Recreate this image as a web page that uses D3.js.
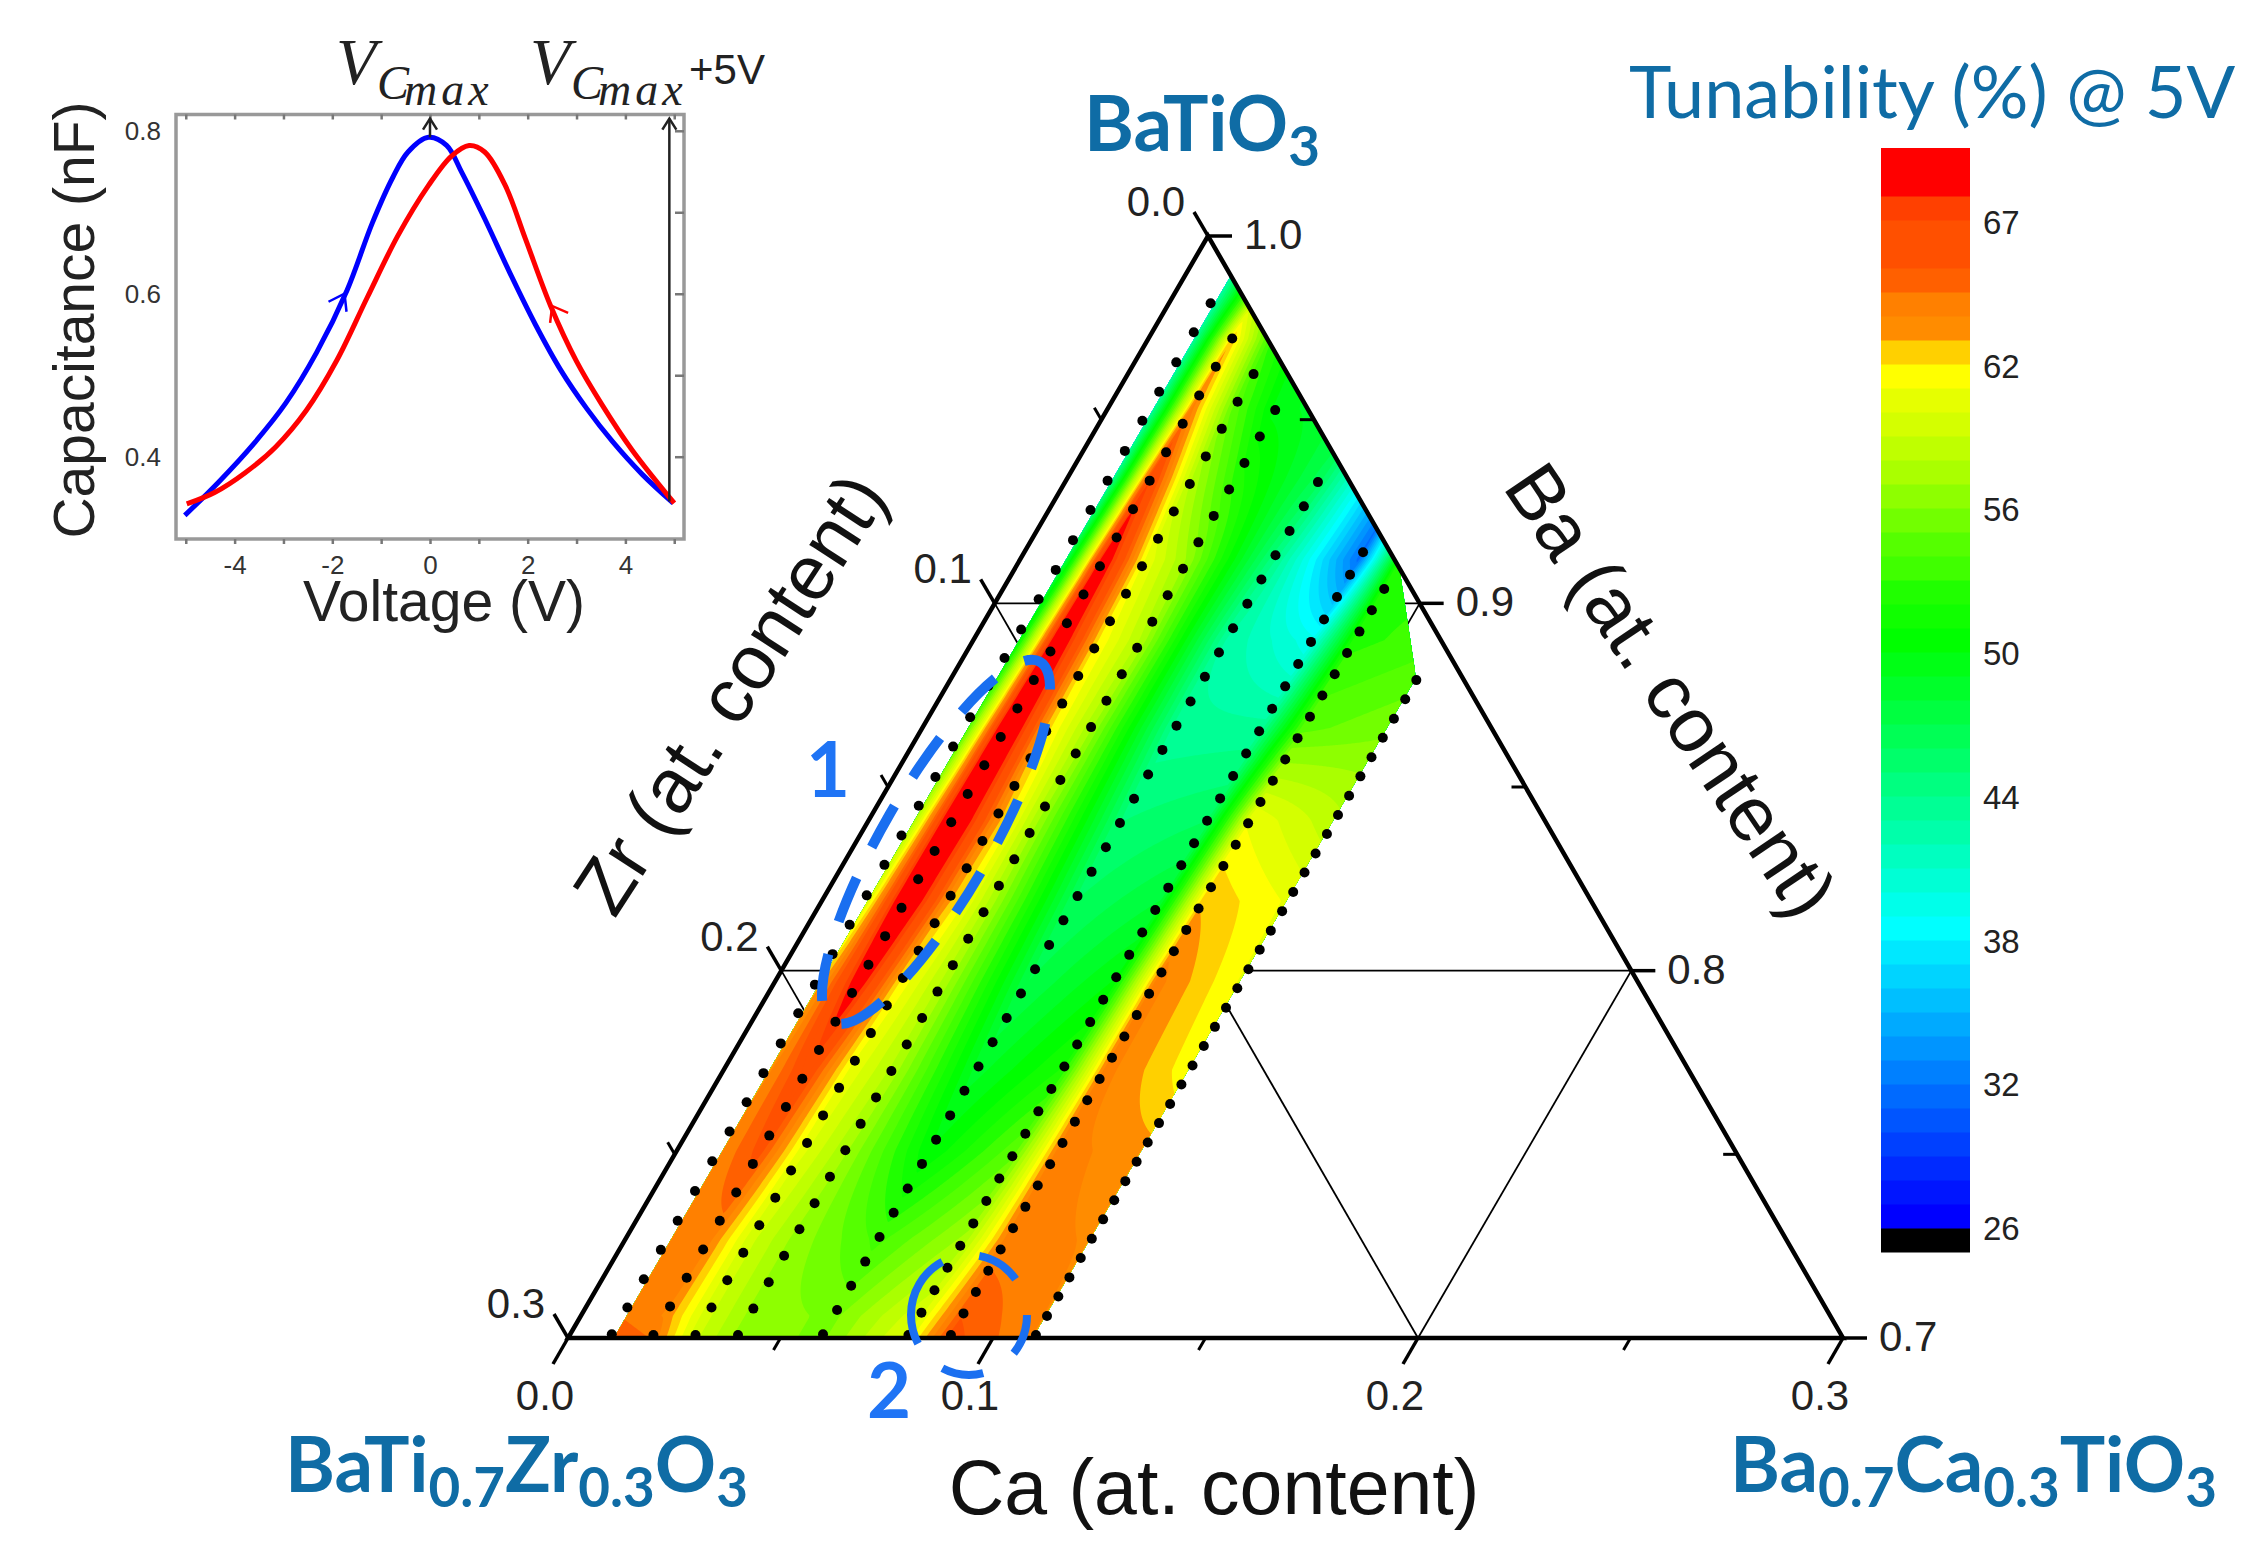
<!DOCTYPE html>
<html>
<head>
<meta charset="utf-8">
<script src="https://cdn.jsdelivr.net/npm/d3@7"></script>
<style>
  body { margin: 0; background: #fff; }
  svg { display: block; }
  text { font-family: "Liberation Sans", Arial, sans-serif; }
  .teal { font-family: Lato, sans-serif; fill: #0f6ca5; }
</style>
</head>
<body>
<svg width="2261" height="1553"></svg>
<script>
// inset C-V loop
const blueV = [-5.02, -4.31, -3.58, -2.95, -2.32, -1.7, -1.18, -0.76, -0.45, -0.03, 0.34, 0.65, 1.12, 1.64, 2.16, 2.68, 3.21, 3.73, 4.35, 4.98];
const blueC = [0.328, 0.370, 0.418, 0.466, 0.528, 0.604, 0.687, 0.743, 0.774, 0.792, 0.782, 0.749, 0.692, 0.625, 0.562, 0.506, 0.459, 0.419, 0.378, 0.343];
const redV = [-4.98, -4.41, -3.79, -3.16, -2.53, -1.91, -1.28, -0.66, -0.03, 0.44, 0.8, 1.12, 1.54, 1.95, 2.47, 3.0, 3.52, 4.14, 5.0];
const redC = [0.342, 0.356, 0.380, 0.412, 0.457, 0.518, 0.596, 0.671, 0.733, 0.769, 0.782, 0.774, 0.733, 0.668, 0.585, 0.517, 0.464, 0.408, 0.343];
const insetXTicks = [-4, -2, 0, 2, 4];
const insetYTicks = [0.4, 0.6, 0.8];

// ternary axes
const caTicks = [0, 0.1, 0.2, 0.3];
const zrTicks = [0, 0.1, 0.2, 0.3];
const baTicks = [1, 0.9, 0.8, 0.7];
const caMinor = [0.05, 0.15, 0.25];
const zrMinor = [0.05, 0.15, 0.25];
const baMinor = [0.95, 0.85, 0.75];

// Ca content of the eight measured lines
const lineCa = [0.0098, 0.0197, 0.0296, 0.0396, 0.0595, 0.0797, 0.0897, 0.1097];

// Ba content of every measured dot on each line, top to bottom
const dotsBa0 = [.9817, .9738, .9656, .9576, .9497, .9415, .9334, .9254, .9172, .9091, .9011, .8929, .8851, .8775, .8690, .8610, .8527, .8449, .8368, .8288, .8205, .8125, .8045, .7962, .7884, .7802, .7721, .7642, .7562, .7481, .7400, .7319, .7240, .7160, .7083, .7010];
const dotsBa1 = [.9721, .9644, .9566, .9489, .9411, .9334, .9256, .9179, .9101, .9024, .8946, .8869, .8791, .8714, .8636, .8559, .8481, .8404, .8326, .8249, .8171, .8094, .8016, .7939, .7861, .7784, .7706, .7629, .7551, .7474, .7396, .7319, .7241, .7164, .7086, .7008];
const dotsBa2 = [.9624, .9549, .9475, .9400, .9325, .9250, .9176, .9101, .9026, .8951, .8877, .8802, .8727, .8652, .8578, .8503, .8428, .8353, .8279, .8204, .8129, .8054, .7980, .7905, .7830, .7755, .7681, .7606, .7531, .7456, .7382, .7307, .7232, .7157, .7083, .7008];
const dotsBa3 = [.9526, .9454, .9382, .9310, .9238, .9166, .9094, .9022, .8950, .8879, .8807, .8735, .8663, .8591, .8519, .8447, .8375, .8303, .8231, .8159, .8087, .8015, .7943, .7871, .7799, .7727, .7655, .7583, .7511, .7439, .7367, .7296, .7224, .7152, .7080, .7008];
const dotsBa4 = [.9330, .9264, .9197, .9131, .9065, .8999, .8932, .8866, .8800, .8733, .8667, .8601, .8534, .8468, .8402, .8336, .8269, .8203, .8137, .8070, .8004, .7938, .7871, .7805, .7739, .7673, .7606, .7540, .7474, .7407, .7341, .7275, .7208, .7142, .7076, .7010];
const dotsBa5 = [.9139, .9078, .9017, .8956, .8895, .8835, .8774, .8713, .8652, .8591, .8530, .8469, .8408, .8347, .8287, .8226, .8165, .8104, .8043, .7982, .7921, .7860, .7799, .7739, .7678, .7617, .7556, .7495, .7434, .7373, .7312, .7251, .7191, .7130, .7069, .7008];
const dotsBa6 = [.9039, .8981, .8923, .8865, .8807, .8749, .8691, .8633, .8575, .8517, .8459, .8401, .8343, .8285, .8227, .8169, .8111, .8053, .7995, .7937, .7879, .7821, .7763, .7705, .7647, .7589, .7531, .7473, .7415, .7357, .7299, .7241, .7183, .7125, .7067, .7008];
const dotsBa7 = [.8791, .8739, .8686, .8634, .8581, .8529, .8476, .8424, .8372, .8319, .8267, .8214, .8162, .8109, .8057, .8004, .7952, .7899, .7847, .7795, .7742, .7690, .7637, .7585, .7532, .7480, .7427, .7375, .7323, .7270, .7218, .7165, .7113, .7060, .7008];
const dotsBa = [dotsBa0, dotsBa1, dotsBa2, dotsBa3, dotsBa4, dotsBa5, dotsBa6, dotsBa7];

// tunability (%), at these Ba sections
const sectionBa = [1.0, .983, .972, .953, .934, .912, .89, .866, .841, .819, .797, .773, .751, .727, .706, .7];
const tun0 = [41, 41, 41, 41, 41, 44, 48, 52, 55.5, 58, 61, 62.5, 63, 63.2, 64, 65];
const tun1 = [55, 58, 62, 63.5, 67, 70, 71, 72, 72, 71.5, 69.5, 66.5, 65.5, 63.5, 63, 64];
const tun2 = [48, 50, 52, 54, 57, 60, 61, 61.5, 63, 62.5, 61, 60, 59.5, 58.5, 58.5, 58.5];
const tun3 = [47, 47, 48, 49, 52, 56, 57, 56.5, 56.5, 57, 57, 57, 56.5, 56, 56, 56];
const tun4 = [48, 48, 48, 47, 46, 44, 42.5, 43, 44.5, 45.5, 46.5, 48, 49.5, 53, 55, 55];
const tun5 = [34, 34, 34, 33, 32, 31.5, 39, 43, 45.5, 47.5, 49.5, 51.5, 54, 56.5, 59, 59.5];
const tun6 = [53, 53, 53, 53, 53, 52, 52, 54, 60, 62, 63.5, 63.5, 63.5, 63.5, 65, 65.5];
const tun7 = [52, 52, 52, 52, 52, 52, 53, 55, 57.5, 60, 60, 60.5, 62.5, 63, 63, 63];
const tunLines = [tun0, tun1, tun2, tun3, tun4, tun5, tun6, tun7];

// outline of the coloured area, [Ca, Ba]
const regionOutline = [[.0108, .989], [.0878, .912], [.0911, .9085], [.0999, .8946], [.108, .8818], [.1093, .8795], [.1093, .7], [.0108, .7]];

// colour bar, bottom cell first
const levelColors = ["#000000", "#0000ff", "#0015ff", "#002aff", "#0040ff", "#0055ff", "#006aff", "#0080ff", "#0095ff", "#00aaff", "#00bfff", "#00d4ff", "#00e8ff", "#00ffff", "#00ffea", "#00ffd5", "#00ffc0", "#00ffaa", "#00ff95", "#00ff80", "#00ff6a", "#00ff55", "#00ff40", "#00ff2a", "#00ff15", "#00ff00", "#10ff00", "#20ff00", "#40ff00", "#55ff00", "#72ff00", "#8eff00", "#aaff00", "#bfff00", "#d4ff00", "#e6ff00", "#ffff00", "#ffd000", "#ff8c00", "#ff8000", "#ff6000", "#ff5000", "#ff5000", "#ff4000", "#ff0000", "#ff0000"];
const barLabels = ["26", "32", "38", "44", "50", "56", "62", "67"];
const levelStep = 0.976;

const svg = d3.select("svg");

// ---- ternary scales ----
const caX = d3.scaleLinear().domain([0, 0.3]).range([0, 1275]);
const baX = d3.scaleLinear().domain([0.7, 1]).range([568, 1208]);
const baY = d3.scaleLinear().domain([0.7, 1]).range([1338, 236]);
const px = (ca, ba) => [caX(ca) + baX(ba), baY(ba)];

const gridG = svg.append("g");
const fieldG = svg.append("g");
const dotsG = svg.append("g");
const frameG = svg.append("g");
const marksG = svg.append("g");

// grid lines at every 0.1
const gridLines = [];
[0.1, 0.2].forEach((v) => {
  gridLines.push([px(0, 1 - v), px(v, 1 - v)]); // Ba
  gridLines.push([px(v, 0.7), px(v, 1 - v)]); // Ca
  gridLines.push([px(0, 1 - v), px(0.3 - v, 0.7)]); // Zr
});
const line2 = d3.line();
gridG.selectAll("path").data(gridLines).join("path")
  .attr("d", line2).attr("fill", "none").attr("stroke", "#000").attr("stroke-width", 1.8);

// ---- contour field ----
const nCols = 320, nRows = 440;
const colToCa = d3.scaleLinear().domain([0.5, nCols - 0.5]).range([lineCa[0], lineCa[7]]);
const rowToBa = d3.scaleLinear().domain([0.5, nRows - 0.5]).range([1, 0.7]);
const lineScales = tunLines.map((vals) => d3.scaleLinear().domain(sectionBa).range(vals));
const grid = new Float64Array(nCols * nRows);
for (let j = 0; j < nRows; j++) {
  const ba = rowToBa(j + 0.5);
  const across = d3.scaleLinear().domain(lineCa).range(lineScales.map((s) => s(ba)));
  for (let i = 0; i < nCols; i++) grid[j * nCols + i] = across(colToCa(i + 0.5));
}
const thresholds = levelColors.slice(1).map((_, i) => 26 + i * levelStep);
const contours = d3.contours().size([nCols, nRows]).thresholds(thresholds).smooth(true)(grid);
const toPage = d3.geoTransform({
  point(i, j) {
    const p = px(colToCa(i), rowToBa(j));
    this.stream.point(p[0], p[1]);
  }
});
const contourPath = d3.geoPath(toPage);

svg.append("defs").append("clipPath").attr("id", "region")
  .append("path").attr("d", line2(regionOutline.map((d) => px(d[0], d[1]))) + "Z");
fieldG.attr("clip-path", "url(#region)");
fieldG.selectAll("path").data(contours).join("path")
  .attr("d", contourPath)
  .attr("fill", (d, i) => levelColors[i + 1]);

// ---- measured dots ----
const dots = dotsBa.flatMap((list, k) => list.map((ba) => ({ ca: lineCa[k], ba })));
dotsG.selectAll("circle").data(dots).join("circle")
  .attr("cx", (d) => px(d.ca, d.ba)[0])
  .attr("cy", (d) => px(d.ca, d.ba)[1])
  .attr("r", 5)
  .attr("fill", "#000");

// ---- triangle and ticks ----
frameG.append("path")
  .attr("d", line2([px(0, 0.7), px(0.3, 0.7), px(0, 1)]) + "Z")
  .attr("fill", "none").attr("stroke", "#000").attr("stroke-width", 4.5).attr("stroke-linejoin", "miter");

function tick(p, dx, dy, w) {
  frameG.append("line")
    .attr("x1", p[0]).attr("y1", p[1]).attr("x2", p[0] + dx).attr("y2", p[1] + dy)
    .attr("stroke", "#000").attr("stroke-width", w);
}
caTicks.forEach((v) => tick(px(v, 0.7), -15, 26, 3.5));
caMinor.forEach((v) => tick(px(v, 0.7), -7, 12, 3));
zrTicks.forEach((v) => tick(px(0, 1 - v), -14, -24, 3.5));
zrMinor.forEach((v) => tick(px(0, 1 - v), -7, -12, 3));
baTicks.forEach((v) => tick(px(1 - v, v), 24, 0, 3.5));
baMinor.forEach((v) => tick(px(1 - v, v), -14, 0, 3));

function label(x, y, str, size, anchor) {
  return svg.append("text").attr("x", x).attr("y", y).attr("font-size", size)
    .attr("text-anchor", anchor || "middle").attr("fill", "#222").text(str);
}
const fmt = d3.format(".1f");
caTicks.forEach((v) => label(px(v, 0.7)[0] - 23, 1410, fmt(v), 42));
zrTicks.forEach((v) => { const p = px(0, 1 - v); label(p[0] - 52, p[1] - 20, fmt(v), 42); });
baTicks.forEach((v) => { const p = px(1 - v, v); label(p[0] + 36, p[1] + 13, fmt(v), 42, "start"); });

label(1214, 1514, "Ca (at. content)", 77).attr("fill", "#111");
label(0, 0, "Zr (at. content)", 77).attr("fill", "#111")
  .attr("transform", "translate(752,708) rotate(-57)");
label(0, 0, "Ba (at. content)", 77).attr("fill", "#111")
  .attr("transform", "translate(1649,705) rotate(56)");

// ---- ellipses and their numbers ----
marksG.append("ellipse")
  .attr("rx", 208).attr("ry", 54)
  .attr("transform", "translate(936,842) rotate(-60)")
  .attr("fill", "none").attr("stroke", "#1a6ff0").attr("stroke-width", 10)
  .attr("pathLength", 11).attr("stroke-dasharray", "0.58 0.42").attr("stroke-dashoffset", 0.2);
marksG.append("ellipse")
  .attr("cx", 969).attr("cy", 1315).attr("rx", 58).attr("ry", 60)
  .attr("fill", "none").attr("stroke", "#1a6ff0").attr("stroke-width", 8)
  .attr("pathLength", 360).attr("stroke-dasharray", "40 36 41 34 92 37 43 37");
[["1", 828, 797], ["2", 889, 1418]].forEach((d) => {
  svg.append("text").attr("class", "num").attr("x", d[1]).attr("y", d[2])
    .attr("font-size", 76).attr("font-weight", 700).attr("text-anchor", "middle")
    .attr("style", "font-family: Lato, sans-serif").attr("fill", "#1f74f5").text(d[0]);
});

// ---- composition labels ----
function chem(x, y, size, parts, bold, anchor) {
  const t = svg.append("text").attr("class", "teal").attr("x", x).attr("y", y)
    .attr("font-size", size).attr("font-weight", bold ? 700 : 400).attr("text-anchor", anchor || "start");
  parts.forEach((p) => {
    const sub = p[0] === "_";
    t.append("tspan").attr("font-size", sub ? size * 0.72 : size)
      .attr("dy", sub ? size * 0.2 : (t.selectAll("tspan").size() > 1 ? -size * 0.2 : 0))
      .text(sub ? p.slice(1) : p);
  });
  return t;
}
chem(1084, 151, 76, ["BaTiO", "_3"], true);
chem(285, 1492, 76, ["BaTi", "_0.7", "Zr", "_0.3", "O", "_3"], true);
chem(1730, 1492, 76, ["Ba", "_0.7", "Ca", "_0.3", "TiO", "_3"], true);
chem(1629, 118, 72, ["Tunability (%) @ 5V"], false);

// ---- colour bar ----
const barY = d3.scaleBand().domain(d3.range(levelColors.length)).range([1252, 148]);
svg.append("g").selectAll("rect").data(levelColors).join("rect")
  .attr("x", 1881).attr("width", 89)
  .attr("y", (d, i) => barY(i)).attr("height", barY.bandwidth() + 0.5)
  .attr("fill", (d) => d);
const barTicks = d3.scalePoint().domain(barLabels).range([1228, 222]);
barLabels.forEach((d) => label(1983, barTicks(d) + 12, d, 33, "start"));

// ---- inset C-V loop ----
const xV = d3.scaleLinear().domain([-5.2, 5.2]).range([176, 684]);
const yC = d3.scaleLinear().domain([0.299, 0.82]).range([539, 114.5]);
const insetG = svg.append("g");
insetG.append("rect").attr("x", 176).attr("y", 114.5).attr("width", 508).attr("height", 424.5)
  .attr("fill", "none").attr("stroke", "#999").attr("stroke-width", 3.5);

function styleAxis(sel) {
  sel.select(".domain").remove();
  sel.selectAll("line").attr("stroke", "#777").attr("stroke-width", 2.5);
  sel.selectAll("text").attr("font-size", 26).attr("fill", "#333")
    .filter(function () { return !this.textContent; }).remove();
}
const vTicksAll = d3.range(-5, 6);
insetG.append("g").attr("transform", "translate(0,539)")
  .call(d3.axisBottom(xV).tickValues(vTicksAll).tickSize(5).tickPadding(12)
    .tickFormat((d) => (insetXTicks.includes(d) ? String(d) : "")))
  .call(styleAxis);
insetG.append("g").attr("transform", "translate(0,114.5)")
  .call(d3.axisBottom(xV).tickValues(vTicksAll).tickSize(5).tickFormat(""))
  .call(styleAxis);
insetG.append("g").attr("transform", "translate(176,0)")
  .call(d3.axisLeft(yC).tickValues(insetYTicks).tickSize(0).tickPadding(15).tickFormat(d3.format(".1f")))
  .call(styleAxis);
insetG.append("g").attr("transform", "translate(684,0)")
  .call(d3.axisLeft(yC).tickValues([0.4, 0.5, 0.6, 0.7, 0.8]).tickSize(9).tickFormat(""))
  .call(styleAxis);

const cvLine = d3.line().curve(d3.curveCatmullRom).x((d) => xV(d[0])).y((d) => yC(d[1]));
insetG.append("path").datum(d3.zip(blueV, blueC)).attr("d", cvLine)
  .attr("fill", "none").attr("stroke", "#0000ff").attr("stroke-width", 5);
insetG.append("path").datum(d3.zip(redV, redC)).attr("d", cvLine)
  .attr("fill", "none").attr("stroke", "#ff0000").attr("stroke-width", 5);

function chevron(v, c, arm1, arm2, color) {
  const tip = [xV(v), yC(c)];
  insetG.append("path")
    .attr("d", line2([[tip[0] + arm1[0], tip[1] + arm1[1]], tip, [tip[0] + arm2[0], tip[1] + arm2[1]]]))
    .attr("fill", "none").attr("stroke", color).attr("stroke-width", 2.5);
}
chevron(-1.75, 0.6, [-16, 8], [2, 18], "#0000ff");
chevron(2.5, 0.585, [16, 7], [-2, 17], "#ff0000");

// markers for V at Cmax and +5 V
[[0, 0.792], [4.9, 0.345]].forEach((d) => {
  insetG.append("line")
    .attr("x1", xV(d[0])).attr("x2", xV(d[0])).attr("y1", yC(d[1])).attr("y2", yC(0.815))
    .attr("stroke", "#222").attr("stroke-width", 2.5);
  chevron(d[0], 0.815, [-7, 11], [7, 11], "#222");
});

label(444, 621, "Voltage (V)", 57).attr("fill", "#222");
label(0, 0, "Capacitance (nF)", 57).attr("fill", "#222").attr("transform", "translate(94,320) rotate(-90)");

function vCmax(x) {
  const serif = (dx, y, size, str, spacing) => svg.append("text")
    .attr("x", x + dx).attr("y", y).attr("font-size", size).attr("font-style", "italic")
    .attr("letter-spacing", spacing || 0).attr("fill", "#222")
    .attr("style", "font-family: 'Liberation Serif', serif").text(str);
  serif(-6, 84, 66, "V");
  serif(35, 99, 48, "C");
  serif(62, 105, 46, "max", 4);
}
vCmax(342);
vCmax(536);
label(689, 84, "+5V", 42, "start").attr("fill", "#222");
</script>
</body>
</html>
